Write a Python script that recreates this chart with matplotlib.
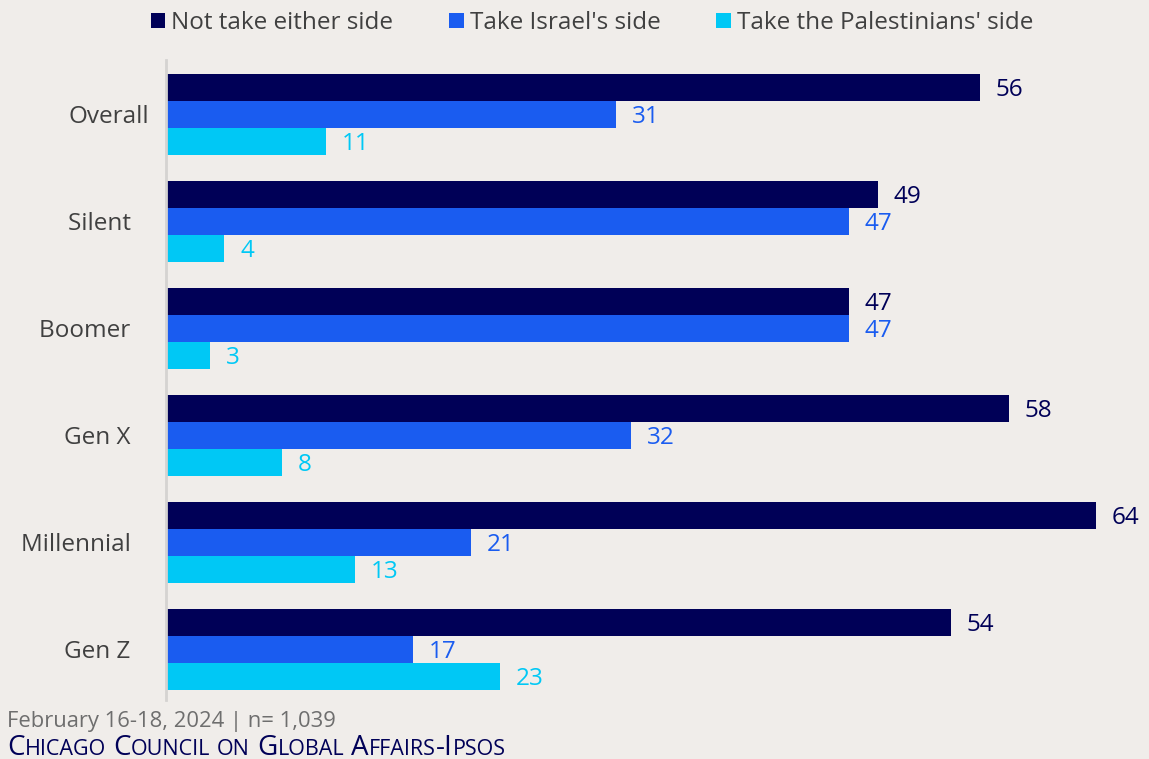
import matplotlib
matplotlib.use("Agg")
import matplotlib.pyplot as plt
import numpy as np

categories = ["Overall", "Silent", "Boomer", "Gen X", "Millennial", "Gen Z"]
series_names = ["Not take either side", "Take Israel's side", "Take the Palestinians' side"]
not_either = [56, 49, 47, 58, 64, 54]
israel = [31, 47, 47, 32, 21, 17]
palestinians = [11, 4, 3, 8, 13, 23]

colors = ["#000057", "#1A5CF0", "#00C8F5"]
bg = "#F0EDEA"
plt.rcParams['font.family'] = ['Open Sans', 'DejaVu Sans']

fig = plt.figure(figsize=(11.49, 7.59), dpi=100, facecolor=bg)
ax = fig.add_axes([166/1149, 59/759, (1149-166)/1149, 640/759])
ax.set_facecolor(bg)

y = np.arange(len(categories))
h = 0.252
data = [not_either, israel, palestinians]
for k, (vals, c) in enumerate(zip(data, colors)):
    pos = y + (k - 1) * h
    ax.barh(pos, vals, height=h, color=c, edgecolor='none')
    for p, v in zip(pos, vals):
        ax.text(v + 1.1, p + 0.02, str(v), va='center', ha='left', fontsize=17.5, color=c)

ax.set_xlim(0, (1149-166)/14.53)
ax.set_ylim(5.472, -0.509)
ax.set_xticks([])
ax.set_yticks(y)
ax.set_yticklabels(["Overall", "Silent   ", "Boomer   ", "Gen X   ", "Millennial   ", "Gen Z   "],
                   fontsize=17.5, color="#404040")
ax.tick_params(axis='y', length=0, pad=12)
for s in ['top', 'right', 'bottom']:
    ax.spines[s].set_visible(False)
ax.spines['left'].set_color('#D5D3D1')
ax.spines['left'].set_linewidth(2)

# legend
from matplotlib.patches import Patch
handles = [Patch(facecolor=c, edgecolor='none') for c in colors]
leg = fig.legend(handles, series_names, loc='center', bbox_to_anchor=(592/1149, 1 - 23/759),
                 ncol=3, frameon=False, fontsize=17.5, handlelength=0.6, handleheight=0.6,
                 handletextpad=0.25, columnspacing=2.3, labelcolor="#404040")

# footer
fig.text(7/1149, 1 - 721/759, "February 16-18, 2024 | n= 1,039", fontsize=15.8, color="#6E6E6E",
         va='center', ha='left')

# small caps source line
renderer = fig.canvas.get_renderer()
x = 7 / 1149
yb = 1 - 755/759
words = ["Chicago", "Council", "on", "Global", "Affairs-Ipsos"]
navy = "#000057"
big, small = 20, 15.5
def put(s, size):
    global x
    t = fig.text(x, yb, s, fontsize=size, color=navy, va='baseline', ha='left')
    bb = t.get_window_extent(renderer=renderer)
    x += bb.width / fig.bbox.width
for i, w in enumerate(words):
    buf = ""
    mode = None
    segs = []
    for ch in w:
        m = 'big' if (ch.isupper() or not ch.isalpha()) else 'small'
        if mode is None or m == mode:
            buf += ch
        else:
            segs.append((buf, mode))
            buf = ch
        mode = m
    segs.append((buf, mode))
    for s, m in segs:
        put(s.upper(), big if m == 'big' else small)
    if i < len(words) - 1:
        put(" ", big)

fig.savefig("out.png", dpi=100, facecolor=bg)
